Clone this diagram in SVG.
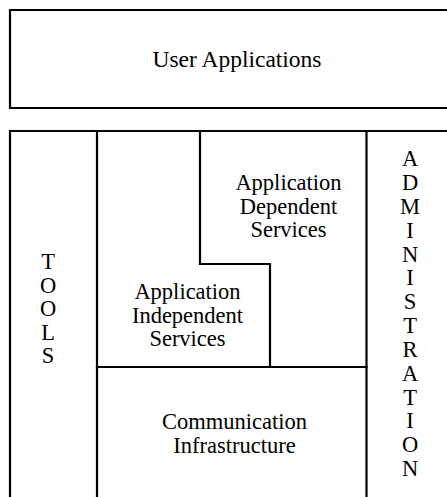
<svg xmlns="http://www.w3.org/2000/svg" width="447" height="497" viewBox="0 0 447 497">
<style>
.ln{fill:none;stroke:#000;stroke-width:2.2;stroke-linecap:square}
.t{font-family:'Liberation Serif','Times New Roman',serif;font-size:22.5px;fill:#000;text-anchor:middle}
</style>
<rect width="447" height="497" fill="#fff"/>
<g id="user-applications">
<path class="ln" d="M448,10 H10 V108 H448"/>
<text class="t" x="237" y="67" style="font-size:23.5px">User Applications</text>
</g>
<g id="frame">
<path class="ln" d="M10,498 V131 H448"/>
</g>
<g id="tools">
<path class="ln" d="M97,131 V498"/>
<text class="t" x="48" y="269">T</text>
<text class="t" x="48" y="293">O</text>
<text class="t" x="48" y="316">O</text>
<text class="t" x="48" y="340">L</text>
<text class="t" x="48" y="363">S</text>
</g>
<g id="app-dependent">
<path class="ln" d="M200,131 V264 H270 V367"/>
<text class="t" x="288.5" y="190">Application</text>
<text class="t" x="288.5" y="213.5">Dependent</text>
<text class="t" x="288.5" y="237">Services</text>
</g>
<g id="app-independent">
<text class="t" x="187.5" y="299">Application</text>
<text class="t" x="187.5" y="322.5">Independent</text>
<text class="t" x="187.5" y="346">Services</text>
</g>
<g id="communication">
<path class="ln" d="M97,367 H366.5"/>
<text class="t" x="234.5" y="429">Communication</text>
<text class="t" x="234.5" y="452.5">Infrastructure</text>
</g>
<g id="administration">
<path class="ln" d="M366.5,131 V498"/>
<text class="t" x="410" y="166">A</text>
<text class="t" x="410" y="190">D</text>
<text class="t" x="410" y="214">M</text>
<text class="t" x="410" y="237.5">I</text>
<text class="t" x="410" y="261.5">N</text>
<text class="t" x="410" y="285">I</text>
<text class="t" x="410" y="309">S</text>
<text class="t" x="410" y="333">T</text>
<text class="t" x="410" y="357">R</text>
<text class="t" x="410" y="380.5">A</text>
<text class="t" x="410" y="404.5">T</text>
<text class="t" x="410" y="428">I</text>
<text class="t" x="410" y="452">O</text>
<text class="t" x="410" y="476">N</text>
</g>
<g id="connectors"></g>
</svg>
